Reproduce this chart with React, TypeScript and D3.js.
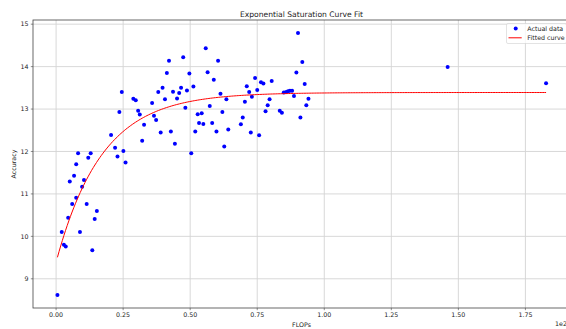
import React, { useEffect, useRef } from 'react'
import * as d3 from 'd3'

// FLOPs (axis shows them scaled by 1e2)
const flops = [
  0.5, 2.1, 2.9, 3.6, 4.5, 5.1, 6.0, 6.7, 7.5, 7.5,
  8.2, 8.9, 9.7, 10.4, 11.4, 12.0, 12.9, 13.5, 14.4, 15.2,
  20.5, 22.0, 22.9, 23.6, 24.5, 25.1, 25.9, 28.8, 29.7, 30.6,
  31.2, 32.1, 32.8, 35.8, 36.5, 37.3, 38.1, 39.0, 39.7, 40.6,
  41.3, 42.1, 42.8, 43.6, 44.3, 45.1, 45.9, 46.6, 47.4, 48.2,
  48.8, 49.7, 50.4, 51.2, 51.9, 52.8, 53.3, 54.3, 54.9, 55.8,
  56.5, 57.3, 58.2, 58.8, 59.8, 60.4, 61.3, 62.0, 62.7, 63.5,
  64.2, 68.9, 69.6, 70.4, 71.1, 72.0, 72.6, 73.0, 74.2, 75.0,
  75.7, 76.4, 77.3, 78.1, 78.9, 79.6, 80.4, 83.4, 84.2, 84.9,
  85.8, 86.5, 87.2, 88.0, 88.7, 89.6, 90.2, 91.1, 91.8, 92.7,
  93.3, 94.1, 146.0, 182.7,
]

const accuracy = [
  8.62, 10.10, 9.80, 9.76, 10.44, 11.29, 10.76, 11.43, 11.70, 10.91,
  11.96, 10.10, 11.17, 11.33, 10.76, 11.85, 11.96, 9.67, 10.41, 10.60,
  12.39, 12.09, 11.88, 12.93, 13.40, 12.01, 11.74, 13.24, 13.21, 12.96,
  12.87, 12.25, 12.63, 13.14, 12.84, 12.74, 13.40, 12.45, 13.50, 13.23,
  13.85, 14.14, 12.47, 13.41, 12.18, 13.25, 13.38, 13.50, 14.22, 13.03,
  13.44, 13.84, 11.96, 13.53, 12.47, 12.88, 12.67, 12.90, 12.65, 14.43,
  13.87, 13.07, 12.67, 13.69, 12.47, 14.14, 13.36, 12.93, 12.12, 13.23,
  12.52, 12.64, 12.80, 13.17, 13.54, 13.40, 12.45, 13.29, 13.73, 13.45,
  12.38, 13.63, 13.60, 12.95, 13.09, 13.23, 13.66, 12.96, 12.91, 13.39,
  13.40, 13.42, 13.43, 13.43, 13.31, 13.86, 14.79, 12.80, 14.11, 13.59,
  13.09, 13.24, 13.99, 13.61,
]

// fitted params: y = a - b * exp(-c * x)
const fitA = 13.39
const fitB = 4.0
const fitC = 0.0588

const xTicks = [0, 25, 50, 75, 100, 125, 150, 175]
const yTicks = [9, 10, 11, 12, 13, 14, 15]

const FONT = 'DejaVu Sans, sans-serif'

export default function App() {
  const svgRef = useRef<SVGSVGElement>(null)

  useEffect(() => {
    const width = 566, height = 329
    const m = { left: 33, right: 570.5, top: 20, bottom: 308 }
    const svg = d3.select(svgRef.current)
    svg.selectAll('*').remove()

    const pts = flops.map((f, i) => ({ x: f, y: accuracy[i] }))

    const [x0, x1] = d3.extent(flops) as [number, number]
    const [y0, y1] = d3.extent(accuracy) as [number, number]
    const px = (x1 - x0) * 0.05, py = (y1 - y0) * 0.05
    const x = d3.scaleLinear().domain([x0 - px, x1 + px]).range([m.left, m.right])
    const y = d3.scaleLinear().domain([y0 - py, y1 + py]).range([m.bottom, m.top])

    svg.append('rect').attr('width', width).attr('height', height).attr('fill', '#fff')

    // grid
    const grid = svg.append('g').attr('stroke', '#d4d4d4').attr('stroke-width', 0.9)
    xTicks.forEach(t => grid.append('line')
      .attr('x1', x(t)).attr('x2', x(t)).attr('y1', m.top).attr('y2', m.bottom))
    yTicks.forEach(t => grid.append('line')
      .attr('x1', m.left).attr('x2', m.right).attr('y1', y(t)).attr('y2', y(t)))

    // points
    svg.append('g').selectAll('circle').data(pts).join('circle')
      .attr('cx', d => x(d.x)).attr('cy', d => y(d.y)).attr('r', 2)
      .attr('fill', '#0000ff')

    // fitted curve
    const xs = d3.range(0, 301).map(i => x0 + (x1 - x0) * i / 300)
    const line = d3.line<number>().x(d => x(d)).y(d => y(fitA - fitB * Math.exp(-fitC * d)))
    svg.append('path').datum(xs).attr('d', line)
      .attr('fill', 'none').attr('stroke', '#ff0000').attr('stroke-width', 1)

    // spines
    svg.append('rect')
      .attr('x', m.left).attr('y', m.top)
      .attr('width', m.right - m.left).attr('height', m.bottom - m.top)
      .attr('fill', 'none').attr('stroke', '#444').attr('stroke-width', 0.8)

    // ticks
    const tk = svg.append('g').attr('font-family', FONT).attr('font-size', 6.3).attr('fill', '#222')
    xTicks.forEach(t => {
      tk.append('line').attr('x1', x(t)).attr('x2', x(t)).attr('y1', m.bottom).attr('y2', m.bottom + 2.2)
        .attr('stroke', '#444').attr('stroke-width', 0.6)
      tk.append('text').attr('x', x(t)).attr('y', m.bottom + 9).attr('text-anchor', 'middle')
        .text(d3.format('.2f')(t / 100))
    })
    yTicks.forEach(t => {
      tk.append('line').attr('x1', m.left - 2.2).attr('x2', m.left).attr('y1', y(t)).attr('y2', y(t))
        .attr('stroke', '#444').attr('stroke-width', 0.6)
      tk.append('text').attr('x', m.left - 4.4).attr('y', y(t)).attr('dy', '0.35em')
        .attr('text-anchor', 'end').text(t)
    })
    tk.append('text').attr('x', 567).attr('y', 325.5).attr('text-anchor', 'end').text('1e2')

    // labels
    svg.append('text').attr('x', 301.5).attr('y', 326.5).attr('text-anchor', 'middle')
      .attr('font-family', FONT).attr('font-size', 6.3).attr('fill', '#222').text('FLOPs')
    svg.append('text').attr('transform', `translate(16.3,${(m.top + m.bottom) / 2}) rotate(-90)`)
      .attr('text-anchor', 'middle')
      .attr('font-family', FONT).attr('font-size', 6.3).attr('fill', '#222').text('Accuracy')
    svg.append('text').attr('x', 301.5).attr('y', 16.8).attr('text-anchor', 'middle')
      .attr('font-family', FONT).attr('font-size', 7.6).attr('fill', '#222')
      .text('Exponential Saturation Curve Fit')

    // legend
    const lg = svg.append('g').attr('font-family', FONT).attr('font-size', 6.3).attr('fill', '#222')
    lg.append('rect').attr('x', 506.5).attr('y', 23.5).attr('width', 60).attr('height', 20).attr('rx', 1.5)
      .attr('fill', '#fff').attr('fill-opacity', 0.8).attr('stroke', '#d0d0d0').attr('stroke-width', 0.6)
    lg.append('circle').attr('cx', 515.7).attr('cy', 28.4).attr('r', 2).attr('fill', '#0000ff')
    lg.append('text').attr('x', 527.3).attr('y', 30.6).text('Actual data')
    lg.append('line').attr('x1', 508.5).attr('x2', 521.7).attr('y1', 37.8).attr('y2', 37.8)
      .attr('stroke', '#ff0000').attr('stroke-width', 1)
    lg.append('text').attr('x', 527.3).attr('y', 40).text('Fitted curve')
  }, [])

  return (
    <svg ref={svgRef} width={566} height={329}
      style={{ position: 'absolute', left: 0, top: 0, display: 'block' }} />
  )
}
